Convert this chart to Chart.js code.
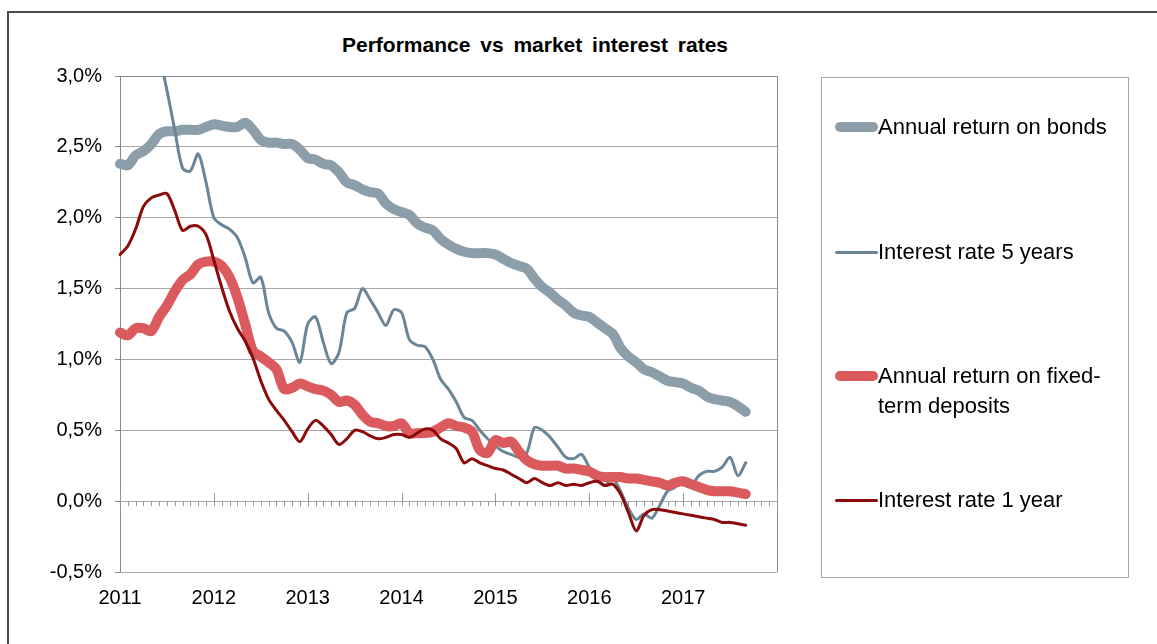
<!DOCTYPE html>
<html>
<head>
<meta charset="utf-8">
<script src="https://cdn.jsdelivr.net/npm/chart.js@4.4.1/dist/chart.umd.min.js"></script>
<style>
  html, body { margin: 0; padding: 0; background: #fff; }
  body { width: 1157px; height: 644px; position: relative; overflow: hidden; font-family: "Liberation Sans", Arial, sans-serif; }
  #frame { position: absolute; left: 7px; top: 11px; width: 1300px; height: 800px; border-top: 2px solid #4a4a4a; border-left: 2px solid #4a4a4a; }
  #chart { position: absolute; left: 0; top: 0; }
  #title { position: absolute; left: 0; width: 1070px; top: 33px; text-align: center; font-weight: bold; font-size: 21px; word-spacing: 4px; color: #000; }
  #legend { position: absolute; left: 821px; top: 77px; width: 306px; height: 499px; border: 1px solid #a6a6a6; }
  .item { position: absolute; left: 12px; font-size: 22px; line-height: 30px; color: #000; }
  .item .swatch { position: absolute; left: 1px; width: 43px; }
  .item .text { position: absolute; left: 44px; white-space: nowrap; }
</style>
</head>
<body>
<div id="frame"></div>
<div id="title">Performance vs market interest rates</div>
<canvas id="chart" width="1157" height="644"></canvas>
<div id="legend"></div>
<script>
// monthly data, Jan 2011 - Sep 2017 (values in %)
const seriesNames = ['Annual return on bonds', 'Interest rate 5 years', 'Annual return on fixed-\nterm deposits', 'Interest rate 1 year'];

const bonds = [2.38, 2.37, 2.44, 2.47, 2.52, 2.59, 2.61, 2.61, 2.62, 2.62, 2.62, 2.64,
  2.66, 2.65, 2.64, 2.64, 2.67, 2.62, 2.55, 2.53, 2.53, 2.52, 2.52, 2.48,
  2.42, 2.41, 2.38, 2.37, 2.32, 2.25, 2.23, 2.20, 2.18, 2.17, 2.10, 2.06,
  2.04, 2.02, 1.96, 1.93, 1.91, 1.85, 1.81, 1.78, 1.76, 1.75, 1.75, 1.75,
  1.74, 1.71, 1.68, 1.66, 1.64, 1.57, 1.51, 1.47, 1.42, 1.38, 1.33, 1.31,
  1.30, 1.26, 1.22, 1.18, 1.08, 1.02, 0.98, 0.93, 0.91, 0.88, 0.85, 0.84,
  0.83, 0.80, 0.78, 0.74, 0.72, 0.71, 0.70, 0.67, 0.63];

const rate5y = [3.35, 3.30, 3.40, 3.45, 3.35, 3.15, 2.90, 2.62, 2.35, 2.33, 2.45, 2.25,
  2.00, 1.95, 1.92, 1.86, 1.72, 1.54, 1.58, 1.33, 1.22, 1.20, 1.12, 0.98,
  1.25, 1.30, 1.12, 0.97, 1.05, 1.33, 1.36, 1.50, 1.42, 1.33, 1.24, 1.35,
  1.33, 1.14, 1.10, 1.09, 1.00, 0.86, 0.79, 0.70, 0.59, 0.57, 0.50, 0.44,
  0.39, 0.35, 0.33, 0.31, 0.34, 0.52, 0.50, 0.45, 0.38, 0.31, 0.30, 0.33,
  0.24, 0.16, 0.11, 0.16, 0.07, -0.05, -0.13, -0.09, -0.12, -0.03, 0.07, 0.10,
  0.16, 0.11, 0.18, 0.21, 0.21, 0.24, 0.31, 0.18, 0.27];

const deposits = [1.19, 1.17, 1.22, 1.22, 1.20, 1.30, 1.38, 1.48, 1.56, 1.60, 1.67, 1.69,
  1.69, 1.66, 1.58, 1.44, 1.25, 1.06, 1.02, 0.98, 0.93, 0.79, 0.80, 0.83,
  0.81, 0.79, 0.78, 0.75, 0.70, 0.71, 0.68, 0.61, 0.56, 0.55, 0.53, 0.53,
  0.55, 0.48, 0.48, 0.48, 0.49, 0.52, 0.55, 0.53, 0.52, 0.49, 0.36, 0.34,
  0.43, 0.41, 0.42, 0.35, 0.29, 0.26, 0.25, 0.25, 0.25, 0.23, 0.23, 0.22,
  0.21, 0.18, 0.17, 0.17, 0.17, 0.16, 0.16, 0.15, 0.14, 0.13, 0.11, 0.13,
  0.14, 0.12, 0.10, 0.08, 0.07, 0.07, 0.07, 0.06, 0.05];

const rate1y = [1.74, 1.80, 1.92, 2.08, 2.14, 2.16, 2.17, 2.05, 1.91, 1.94, 1.94, 1.88,
  1.70, 1.51, 1.34, 1.22, 1.13, 1.01, 0.85, 0.72, 0.64, 0.57, 0.49, 0.42,
  0.51, 0.57, 0.53, 0.47, 0.40, 0.44, 0.50, 0.49, 0.46, 0.44, 0.45, 0.47,
  0.47, 0.45, 0.48, 0.51, 0.50, 0.44, 0.41, 0.37, 0.27, 0.30, 0.27, 0.25,
  0.23, 0.22, 0.19, 0.16, 0.13, 0.16, 0.13, 0.11, 0.13, 0.11, 0.12, 0.11,
  0.13, 0.14, 0.11, 0.12, 0.05, -0.08, -0.21, -0.10, -0.06, -0.06, -0.07, -0.08,
  -0.09, -0.10, -0.11, -0.12, -0.13, -0.15, -0.15, -0.16, -0.17];

const yTicks = [-0.5, 0, 0.5, 1.0, 1.5, 2.0, 2.5, 3.0];

// month categories Jan 2011 .. Jan 2018 (axis runs to 2018)
const months = [];
for (let y = 2011; y <= 2018; y++) {
  for (let m = 1; m <= 12; m++) {
    if (y === 2018 && m > 1) break;
    months.push(y + '-' + String(m).padStart(2, '0'));
  }
}

const colors = ['#8d9eab', '#6a8596', '#da5a5d', '#8b0a0a'];
const widths = [10, 3, 10, 3];

// plot area outline + month ticks on the zero line
const axisDecor = {
  id: 'axisDecor',
  beforeDatasetsDraw(chart) {
    const ctx = chart.ctx;
    const a = chart.chartArea;
    const xs = chart.scales.x;
    const y0 = chart.scales.y.getPixelForValue(0);
    ctx.save();
    ctx.strokeStyle = '#8a8a8a';
    ctx.lineWidth = 1;
    ctx.beginPath();
    ctx.moveTo(a.left, a.top + 0.5);
    ctx.lineTo(a.right + 0.5, a.top + 0.5);
    ctx.lineTo(a.right + 0.5, a.bottom);
    ctx.stroke();
    ctx.strokeStyle = '#999';
    ctx.beginPath();
    for (let i = 0; i < months.length; i++) {
      const px = Math.round(xs.getPixelForValue(i)) + 0.5;
      if (i % 12 === 0) {
        ctx.moveTo(px, y0 - 8);
        ctx.lineTo(px, y0 + 5);
      } else {
        ctx.moveTo(px, y0);
        ctx.lineTo(px, y0 + 5);
      }
    }
    ctx.stroke();
    ctx.restore();
  }
};

const ctx = document.getElementById('chart').getContext('2d');
const chart = new Chart(ctx, {
  type: 'line',
  data: {
    labels: months,
    datasets: [bonds, rate5y, deposits, rate1y].map(function(vals, i) {
      return {
        label: seriesNames[i],
        data: vals,
        borderColor: colors[i],
        backgroundColor: colors[i],
        borderWidth: widths[i],
        pointRadius: 0,
        tension: 0.3,
        borderCapStyle: 'round',
        borderJoinStyle: 'round',
        order: 4 - i
      };
    })
  },
  options: {
    responsive: false,
    animation: false,
    layout: { padding: { top: 76, right: 380, bottom: 0, left: 0 } },
    plugins: {
      legend: { display: false },
      title: { display: false },
      tooltip: { enabled: false }
    },
    scales: {
      x: {
        type: 'category',
        offset: false,
        grid: { display: false, drawTicks: false },
        border: { display: false },
        ticks: {
          autoSkip: false,
          maxRotation: 0,
          minRotation: 0,
          padding: 14,
          color: '#000',
          font: { family: 'Liberation Sans', size: 20 },
          callback: function(v, i) {
            const lab = months[i];
            return (lab.endsWith('-01') && !lab.startsWith('2018')) ? lab.slice(0, 4) : '';
          }
        },
        afterFit: function(s) { s.height = 72; }
      },
      y: {
        min: -0.5,
        max: 3.0,
        afterBuildTicks: function(s) { s.ticks = yTicks.map(function(v) { return { value: v }; }); },
        grid: { color: '#a8a8a8', lineWidth: 1, tickLength: 5, tickColor: '#8a8a8a' },
        border: { display: true, color: '#8a8a8a', width: 1 },
        ticks: {
          padding: 13,
          color: '#000',
          font: { family: 'Liberation Sans', size: 20 },
          callback: function(v) { return v.toFixed(1).replace('.', ',') + '%'; }
        },
        afterFit: function(s) { s.width = 120; }
      }
    }
  },
  plugins: [axisDecor]
});

// legend in its own box, built from the chart's datasets
const legendEl = document.getElementById('legend');
const itemTops = [34, 159, 283, 407];
chart.data.datasets.forEach(function(ds, i) {
  const item = document.createElement('div');
  item.className = 'item';
  item.style.top = itemTops[i] + 'px';
  const sw = document.createElement('div');
  sw.className = 'swatch';
  sw.style.height = ds.borderWidth + 'px';
  sw.style.top = (15 - ds.borderWidth / 2) + 'px';
  sw.style.background = ds.borderColor;
  sw.style.borderRadius = (ds.borderWidth / 2) + 'px';
  const tx = document.createElement('div');
  tx.className = 'text';
  tx.innerHTML = ds.label.split('\n').join('<br>');
  item.appendChild(sw);
  item.appendChild(tx);
  legendEl.appendChild(item);
});
</script>
</body>
</html>
